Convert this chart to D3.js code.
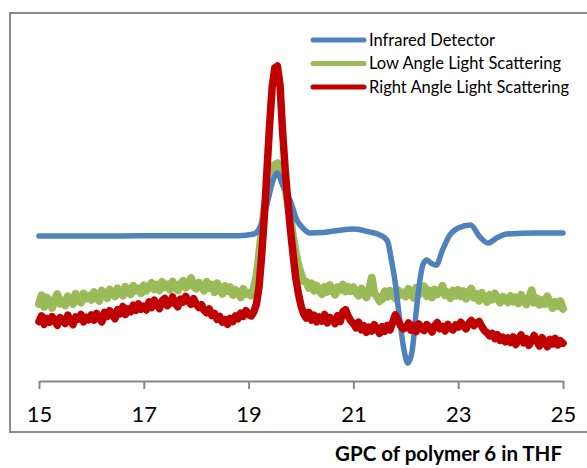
<!DOCTYPE html>
<html>
<head>
<meta charset="utf-8">
<script src="https://cdn.jsdelivr.net/npm/d3@7"></script>
<style>
  html, body { margin: 0; padding: 0; background: #fff; }
  svg { display: block; }
</style>
</head>
<body>
<svg id="chart" width="587" height="468"></svg>
<script>
// ---------------- DATA ----------------
const title = "GPC of polymer 6 in THF";
const seriesNames = ["Infrared Detector", "Low Angle Light Scattering", "Right Angle Light Scattering"];
const xTicks = [15, 17, 19, 21, 23, 25];

// Infrared detector: [elution time (min), signal]
const infrared = [
  [15.0, 41.4], [16.0, 41.4], [17.0, 41.5], [18.0, 41.5], [18.8, 41.5], [19.1, 42.0],
  [19.22, 44.0], [19.37, 51.7], [19.47, 57.5], [19.55, 59.4], [19.65, 56.0], [19.79, 51.7],
  [19.92, 46.0], [20.05, 43.5], [20.17, 42.3], [20.4, 42.4], [20.74, 43.1], [21.0, 43.4],
  [21.3, 42.6], [21.51, 41.7], [21.65, 40.0], [21.72, 35.0], [21.79, 28.9], [21.88, 18.0],
  [21.97, 8.5], [22.04, 5.1], [22.12, 8.5], [22.2, 20.0], [22.27, 28.9], [22.33, 33.4],
  [22.40, 34.6], [22.48, 33.7], [22.58, 33.1], [22.7, 37.4], [22.84, 41.7], [23.0, 43.7],
  [23.24, 44.6], [23.4, 41.4], [23.57, 39.4], [23.75, 41.0], [23.93, 42.0], [24.5, 42.3],
  [25.0, 42.3]
];

// Light scattering detectors sampled every 0.05 min from 15.00 min
const sampleStart = 15.0;
const sampleStep = 0.05;

const lowAngle = [
  22.0, 24.5, 21.2, 23.8, 22.6, 20.9, 23.4, 24.8, 22.1, 23.0, 21.6, 24.2, 23.5, 22.0, 24.9, 23.1, 22.4, 25.0, 23.6, 24.3,
  23.2, 25.4, 24.0, 22.9, 25.8, 24.6, 23.7, 26.1, 25.0, 24.2, 26.5, 25.3, 24.4, 26.9, 25.6, 24.8, 27.2, 25.9, 26.4, 25.1,
  27.3, 25.8, 26.9, 28.0, 26.2, 27.5, 25.9, 28.3, 26.8, 27.6, 26.1, 28.4, 27.0, 25.9, 27.8, 28.6, 26.7, 27.4, 29.4, 27.1,
  26.4, 28.1, 27.0, 25.8, 28.3, 26.6, 27.5, 25.4, 27.9, 26.2, 24.9, 27.1, 25.7, 26.8, 24.6, 26.0, 25.2, 23.9, 26.3, 24.8,
  25.2, 24.4, 26.5, 30.0, 36.0, 43.0, 49.0, 53.5, 57.5, 60.3, 61.8, 62.2, 60.5, 58.0, 55.0, 51.0, 46.5, 41.0, 36.5, 33.0,
  30.5, 28.5, 28.4, 26.6, 27.9, 25.8, 27.2, 26.0, 24.8, 26.9, 25.5, 27.4, 25.9, 24.7, 26.8, 26.1, 27.5, 25.6, 26.9, 25.7,
  26.8, 25.3, 24.4, 26.4, 25.1, 23.9, 26.2, 29.5, 25.0, 24.2, 22.8, 23.4, 25.6, 24.1, 25.8, 24.3, 23.6, 25.9, 24.6, 25.3,
  24.1, 26.3, 25.2, 23.8, 26.6, 24.7, 25.5, 27.0, 24.3, 25.9, 23.9, 26.1, 24.8, 25.6, 27.2, 24.5, 25.3, 23.7, 25.8, 24.4,
  26.0, 24.2, 25.7, 23.5, 25.1, 26.4, 23.8, 24.9, 22.9, 25.2, 24.0, 22.6, 24.6, 23.3, 25.0, 23.6, 22.4, 24.1, 23.2, 22.5,
  24.3, 22.7, 23.9, 22.2, 24.6, 23.0, 21.9, 23.5, 25.9, 22.4, 23.6, 21.8, 23.1, 22.0, 24.2, 22.3, 20.9, 22.6, 21.4, 22.8,
  20.6
];

const rightAngle = [
  17.0, 18.6, 16.2, 17.9, 16.8, 18.4, 17.3, 15.9, 18.1, 17.6, 16.4, 18.8, 17.2, 16.1, 18.3, 17.7, 19.0, 16.9, 18.2, 17.5,
  18.9, 17.4, 19.3, 18.0, 16.9, 19.6, 18.4, 20.1, 18.8, 17.8, 20.4, 19.2, 21.3, 19.0, 20.6, 19.8, 21.7, 20.2, 22.0, 20.5,
  21.4, 20.3, 22.6, 21.0, 23.1, 21.8, 20.7, 22.9, 23.6, 21.5, 22.3, 24.0, 22.1, 21.2, 23.4, 22.6, 24.2, 22.8, 21.9, 23.5,
  22.0, 21.0, 21.8, 20.2, 19.5, 20.6, 18.7, 19.3, 17.6, 18.4, 16.8, 17.5, 16.2, 17.9, 17.0, 18.6, 17.8, 19.4, 18.5, 20.1,
  19.0, 18.6, 19.8, 22.0, 27.0, 36.0, 47.0, 60.0, 73.0, 84.0, 89.5, 90.0, 84.5, 71.0, 60.0, 51.0, 43.0, 36.0, 29.5, 25.0,
  21.5, 19.2, 18.0, 19.6, 17.4, 18.8, 16.9, 18.3, 17.1, 19.0, 16.6, 18.2, 17.5, 16.4, 18.7, 17.0, 19.8, 20.4, 18.6, 17.2,
  16.4, 15.2, 16.8, 14.6, 15.8, 13.9, 15.4, 14.3, 16.1, 14.8, 13.6, 15.5, 14.2, 15.9, 14.6, 16.8, 18.9, 17.4, 15.8, 14.9,
  15.2, 16.6, 14.5, 15.9, 14.1, 16.3, 15.0, 14.4, 16.1, 15.3, 14.0, 15.8, 16.7, 14.9, 15.6, 14.3, 16.2, 15.1, 14.6, 16.0,
  15.4, 16.8, 15.7, 14.9, 16.4, 17.3, 15.8, 16.6, 17.0, 15.6, 14.4, 13.8, 12.9, 13.6, 12.1, 13.2, 11.6, 12.5, 11.2, 12.3,
  11.0, 12.6, 10.4, 11.8, 13.2, 10.9, 12.1, 10.2, 11.6, 13.0, 11.3, 10.0, 12.4, 11.1, 9.8, 11.9, 10.6, 12.2, 10.3, 11.5,
  10.8
];

// ---------------- DRAWING ----------------
const colors = ["#4f81bd", "#9bbb59", "#c00000"];
const svg = d3.select("#chart");

// outer frame
svg.append("rect")
  .attr("x", 10).attr("y", 13)
  .attr("width", 600).attr("height", 419)
  .attr("fill", "none")
  .attr("stroke", "#8c8c8c")
  .attr("stroke-width", 2);

const x = d3.scaleLinear().domain([15, 25]).range([39, 563]);
const y = d3.scaleLinear().domain([0, 100]).range([381, 31]);

const toPoints = arr => arr.map((v, i) => [sampleStart + i * sampleStep, v]);

const lineLinear = d3.line().x(d => x(d[0])).y(d => y(d[1])).curve(d3.curveLinear);
const lineSmooth = d3.line().x(d => x(d[0])).y(d => y(d[1])).curve(d3.curveMonotoneX);

// draw order: low angle, infrared, right angle
svg.append("path")
  .datum(toPoints(lowAngle))
  .attr("d", lineLinear)
  .attr("fill", "none")
  .attr("stroke", colors[1])
  .attr("stroke-width", 8)
  .attr("stroke-linejoin", "round")
  .attr("stroke-linecap", "round");

svg.append("path")
  .datum(infrared)
  .attr("d", lineSmooth)
  .attr("fill", "none")
  .attr("stroke", colors[0])
  .attr("stroke-width", 5.5)
  .attr("stroke-linejoin", "round")
  .attr("stroke-linecap", "round");

svg.append("path")
  .datum(toPoints(rightAngle))
  .attr("d", lineLinear)
  .attr("fill", "none")
  .attr("stroke", colors[2])
  .attr("stroke-width", 7.5)
  .attr("stroke-linejoin", "round")
  .attr("stroke-linecap", "round");

// x axis
const axis = svg.append("g")
  .attr("transform", "translate(0,381)")
  .call(d3.axisBottom(x).tickValues(xTicks).tickSize(8).tickSizeOuter(0).tickFormat(d3.format("d")));
axis.select(".domain").attr("stroke", "#868686").attr("stroke-width", 2);
axis.selectAll(".tick line").attr("stroke", "#868686").attr("stroke-width", 2);
axis.selectAll(".tick text")
  .attr("y", 41).attr("dy", 0)
  .attr("fill", "#000")
  .style("font-family", "Lato, 'Open Sans', sans-serif")
  .style("font-size", "22px");

// legend
const legend = svg.append("g");
const legendY = [40, 63.5, 87];
seriesNames.forEach((name, i) => {
  legend.append("line")
    .attr("x1", 313).attr("x2", 364)
    .attr("y1", legendY[i]).attr("y2", legendY[i])
    .attr("stroke", colors[i])
    .attr("stroke-width", 5)
    .attr("stroke-linecap", "round");
  legend.append("text")
    .attr("x", 369).attr("y", legendY[i] + 5.5)
    .style("font-family", "Lato, 'Open Sans', sans-serif")
    .style("font-size", "16.5px")
    .attr("fill", "#000")
    .text(name);
});

// caption
svg.append("text")
  .attr("x", 562).attr("y", 461)
  .attr("text-anchor", "end")
  .style("font-family", "Lato, 'Open Sans', sans-serif")
  .style("font-size", "20.5px")
  .style("font-weight", "bold")
  .attr("fill", "#000")
  .text(title);
</script>
</body>
</html>
